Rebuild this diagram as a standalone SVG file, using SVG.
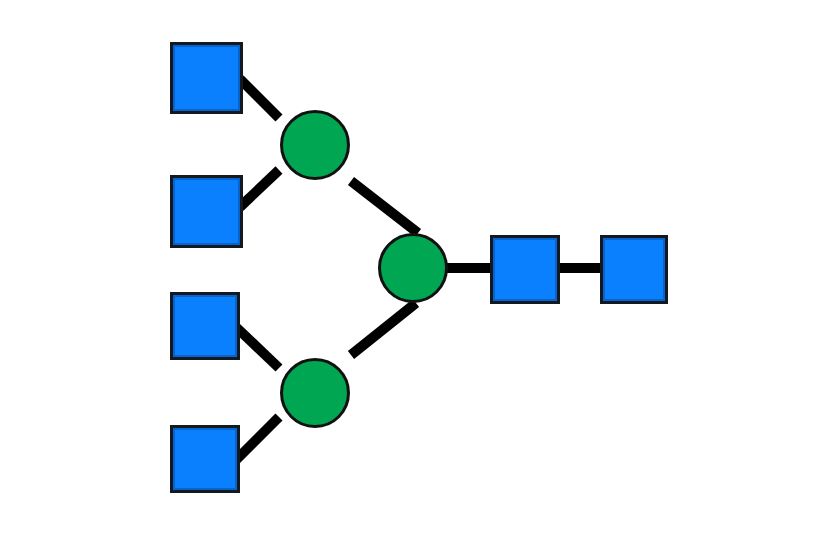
<svg xmlns="http://www.w3.org/2000/svg" width="840" height="535" viewBox="0 0 840 535">
<style>
.sq{fill:#0a80ff;stroke:#14181f;stroke-width:3}
.sqi{fill:none;stroke:#0565cc;stroke-width:2}
.ci{fill:#00a651;stroke:#111;stroke-width:3}
.ln{stroke:#000;stroke-width:10;stroke-linecap:butt;fill:none}
</style>
<rect width="840" height="535" fill="#fff"/>
<g id="connectors">
<line class="ln" x1="240" y1="79" x2="279" y2="118"/>
<line class="ln" x1="240" y1="207" x2="279" y2="170"/>
<line class="ln" x1="236" y1="327" x2="279" y2="368"/>
<line class="ln" x1="236" y1="460" x2="279" y2="417"/>
<line class="ln" x1="351" y1="181" x2="418" y2="233"/>
<line class="ln" x1="351" y1="355" x2="416" y2="303"/>
<line class="ln" x1="413" y1="268" x2="634" y2="268"/>
</g>
<g id="sq1"><rect class="sq" x="171.5" y="43.5" width="70" height="69"/><rect class="sqi" x="174" y="46" width="65" height="64"/></g>
<g id="sq2"><rect class="sq" x="171.5" y="176.5" width="70" height="70"/><rect class="sqi" x="174" y="179" width="65" height="65"/></g>
<g id="sq3"><rect class="sq" x="171.5" y="293.5" width="67" height="65"/><rect class="sqi" x="174" y="296" width="62" height="60"/></g>
<g id="sq4"><rect class="sq" x="171.5" y="426.5" width="67" height="65"/><rect class="sqi" x="174" y="429" width="62" height="60"/></g>
<g id="c1"><circle class="ci" cx="315" cy="145" r="33.5"/></g>
<g id="c3"><circle class="ci" cx="315" cy="393" r="33.5"/></g>
<g id="c2"><circle class="ci" cx="413" cy="268" r="33.5"/></g>
<g id="sq5"><rect class="sq" x="491.5" y="236.5" width="67" height="66"/><rect class="sqi" x="494" y="239" width="62" height="61"/></g>
<g id="sq6"><rect class="sq" x="601.5" y="236.5" width="65" height="66"/><rect class="sqi" x="604" y="239" width="60" height="61"/></g>
</svg>
